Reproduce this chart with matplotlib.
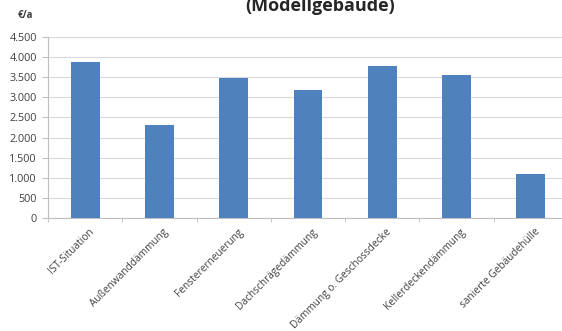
import numpy as np
import matplotlib.pyplot as plt
from matplotlib.ticker import FuncFormatter, FixedLocator

categories = ['IST-Situation', 'Außenwanddämmung', 'Fenstererneuerung', 'Dachschrägedämmung',
              'Dämmung o. Geschossdecke', 'Kellerdeckendämmung', 'sanierte Gebäudehülle']
values = [3870, 2320, 3480, 3190, 3770, 3560, 1090]
yticks = [0, 500, 1000, 1500, 2000, 2500, 3000, 3500, 4000, 4500]

plt.rcParams['font.family'] = ['Open Sans', 'DejaVu Sans']

fig = plt.figure(figsize=(5.62, 3.31), dpi=100)
# axes runs a bit past the right edge, as in the reference
ax = fig.add_axes([48/562, 1 - 218/331, 520/562, 181/331])

x = np.arange(len(categories))
ax.bar(x, values, width=0.39, color='#4f81bd', zorder=3)

ax.set_xlim(-0.5, len(categories) - 0.5)
ax.set_ylim(0, 4500)
ax.set_yticks(yticks)
ax.yaxis.set_major_formatter(FuncFormatter(lambda v, p: f'{int(v):,}'.replace(',', '.')))
ax.grid(axis='y', color='#d9d9d9', linewidth=0.8, zorder=0)

ax.set_xticks(x + 0.05)
ax.set_xticklabels(categories, rotation=45, ha='right', rotation_mode='anchor', fontsize=7.3, color='#404040')
ax.tick_params(axis='x', length=0, pad=6)
ax.xaxis.set_minor_locator(FixedLocator(np.arange(-0.5, len(categories), 1.0)))
ax.tick_params(axis='x', which='minor', length=3, color='#bfbfbf')
ax.tick_params(axis='y', labelsize=7.8, labelcolor='#404040', length=4, color='#bfbfbf', pad=4)

for s in ['top', 'right']:
    ax.spines[s].set_visible(False)
ax.spines['left'].set_color('#bfbfbf')
ax.spines['bottom'].set_color('#bfbfbf')

fig.text(18/562, 1 - 16/331, '€/a', fontsize=7, fontweight='bold', color='#404040', ha='left', va='center')
fig.text(320/562, 1 - 11/331, '(Modellgebäude)', fontsize=13, fontweight='bold', color='#262626',
         ha='center', va='baseline')

fig.savefig('out.png', dpi=100)
